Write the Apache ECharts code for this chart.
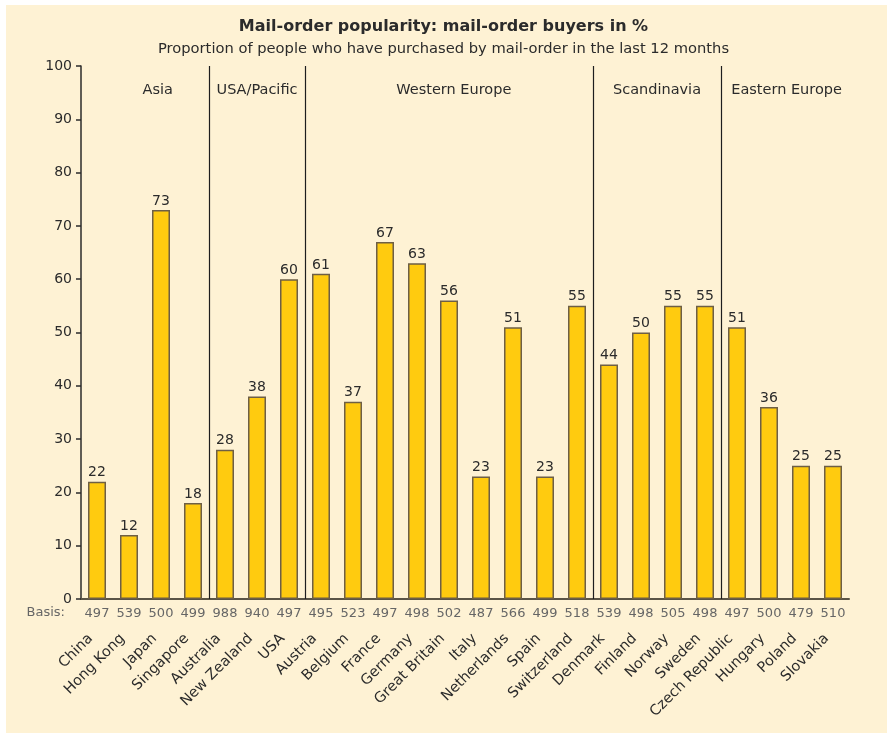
<!DOCTYPE html>
<html>
<head>
<meta charset="utf-8">
<script src="https://cdn.jsdelivr.net/npm/echarts@6/dist/echarts.min.js"></script>
<style>
  html, body { margin: 0; padding: 0; background: #fff; }
  #chart { width: 887px; height: 733px; }
</style>
</head>
<body>
<div id="chart"></div>
<script>
// data
var countries = ['China', 'Hong Kong', 'Japan', 'Singapore', 'Australia', 'New Zealand', 'USA',
  'Austria', 'Belgium', 'France', 'Germany', 'Great Britain', 'Italy', 'Netherlands', 'Spain',
  'Switzerland', 'Denmark', 'Finland', 'Norway', 'Sweden', 'Czech Republic', 'Hungary', 'Poland', 'Slovakia']
var buyers = [22, 12, 73, 18, 28, 38, 60, 61, 37, 67, 63, 56, 23, 51, 23, 55, 44, 50, 55, 55, 51, 36, 25, 25]
var basis = [497, 539, 500, 499, 988, 940, 497, 495, 523, 497, 498, 502, 487, 566, 499, 518, 539, 498, 505, 498, 497, 500, 479, 510]
var groups = ['Asia', 'USA/Pacific', 'Western Europe', 'Scandinavia', 'Eastern Europe']
var groupLabelPos = [2.4, 5.5, 11.65, 18, 22.05]   // in category units
var groupBreaks = [4, 7, 16, 20]                   // region dividers, between categories
var yTicks = { min: 0, max: 100, interval: 10 }

var font = 'DejaVu Sans'
var dark = '#2b2b2b'
var grey = '#666'

var chart = echarts.init(document.getElementById('chart'))
var option = {
  backgroundColor: '#fff',
  textStyle: { fontFamily: font },
  title: {
    text: 'Mail-order popularity: mail-order buyers in %',
    subtext: 'Proportion of people who have purchased by mail-order in the last 12 months',
    left: 'center',
    top: 14,
    itemGap: 7,
    textStyle: { fontFamily: font, fontSize: 16, fontWeight: 'bold', color: dark },
    subtextStyle: { fontFamily: font, fontSize: 14.7, color: dark }
  },
  graphic: [
    { type: 'rect', z: -10, silent: true, shape: { x: 6, y: 5, width: 881, height: 728 }, style: { fill: '#fef2d4' } },
    { type: 'text', style: { x: 65, y: 613, text: 'Basis:', textAlign: 'right', textVerticalAlign: 'middle',
        fontFamily: font, fontSize: 13, fill: grey } }
  ],
  grid: { left: 81, top: 66, width: 768, height: 533 },
  xAxis: [
    {
      type: 'category',
      data: basis,
      position: 'bottom',
      axisLine: { lineStyle: { color: '#5a5446', width: 2 } },
      axisTick: { length: 6, lineStyle: { color: '#5a5446', width: 1.5 } },
      axisLabel: { margin: 8, fontSize: 13, color: grey, interval: 0 }
    },
    {
      type: 'category',
      data: countries,
      position: 'bottom',
      axisLine: { show: false },
      axisTick: { show: false },
      axisLabel: { rotate: 45, margin: 31, padding: [0, 9, 0, 0], fontSize: 14.5, color: dark, interval: 0 }
    },
    {
      type: 'value',
      min: 0,
      max: countries.length,
      show: false
    }
  ],
  yAxis: {
    type: 'value',
    min: yTicks.min,
    max: yTicks.max,
    interval: yTicks.interval,
    axisLine: { show: true, lineStyle: { color: dark, width: 1.5 } },
    axisTick: { show: true, length: 5, lineStyle: { color: dark, width: 1.5 } },
    axisLabel: { fontSize: 14, color: dark, margin: 9 },
    splitLine: { show: false }
  },
  series: [
    {
      type: 'bar',
      xAxisIndex: 0,
      data: buyers,
      barWidth: 18,
      itemStyle: { color: '#ffcb0f', borderColor: '#6e5f45', borderWidth: 1.5 },
      label: { show: true, position: 'top', distance: 2, fontSize: 14, color: dark }
    },
    {
      // region names and dividers
      type: 'scatter',
      xAxisIndex: 2,
      symbolSize: 0,
      silent: true,
      itemStyle: { opacity: 1 },
      data: groups.map(function (g, i) { return { name: g, value: [groupLabelPos[i], 95.5] } }),
      label: { show: true, position: 'inside', formatter: '{b}', fontSize: 14.5, color: dark,
        textBorderWidth: 0, opacity: 1 },
      markLine: {
        silent: true,
        symbol: 'none',
        label: { show: false },
        lineStyle: { color: '#1e1e1e', width: 1.2, type: 'solid', opacity: 1 },
        data: groupBreaks.map(function (b) { return [{ coord: [b, yTicks.min] }, { coord: [b, yTicks.max] }] })
      }
    }
  ]
}
chart.setOption(option)
</script>
</body>
</html>
